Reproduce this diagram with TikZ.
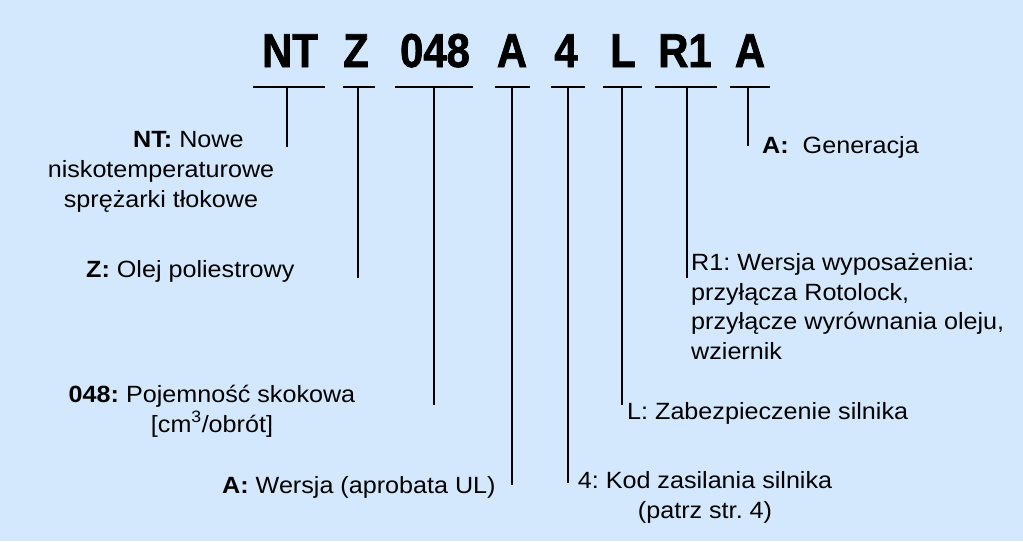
\documentclass[tikz,border=0pt]{standalone}
\usepackage{fontspec}
\setmainfont{Liberation Sans}
\newfontfamily\codefont[FakeStretch=0.88, FakeBold=1.6]{Liberation Sans}
\newfontfamily\descfont[FakeStretch=1.07]{Liberation Sans}
\definecolor{panelblue}{RGB}{211,232,253}
\frenchspacing

\tikzstyle {codetext} = [inner sep=0pt, anchor=base, font=\codefont\bfseries\fontsize{47.5}{50}\selectfont]
\tikzstyle {desc} = [inner sep=0pt, anchor=base west, align=left, font=\descfont\fontsize{23.5}{29.5}\selectfont]
\tikzstyle {bar} = [line width=2.8pt]

\begin{document}
\begin{tikzpicture}[x=1pt, y=-1pt]
    \fill [panelblue] (0,0) rectangle (1023,541);
    % type code
    \node [codetext] (nt) at (290,67) {NT};
    \node [codetext] (z) at (356,67) {Z};
    \node [codetext] (disp) at (435,67) {048};
    \node [codetext] (ver) at (512,67) {A};
    \node [codetext] (volt) at (566,67) {4};
    \node [codetext] (prot) at (623,67) {L};
    \node [codetext] (equip) at (685,67) {R1};
    \node [codetext] (gen) at (750,67) {A};
    % descriptions (multi-line nodes sit on their last baseline)
    \node [desc] (ntlabel) at (133,147) {\textbf{NT:} Nowe};
    \node [desc, align=center, anchor=base] (ntdesc) at (161,207) {niskotemperaturowe\\sprężarki tłokowe};
    \node [desc] (zlabel) at (86,277) {\textbf{Z:} Olej poliestrowy};
    \node [desc, align=center, anchor=base] (displabel) at (212,432) {\textbf{048:} Pojemność skokowa\\{[}cm\textsuperscript{3}/obrót]};
    \node [desc] (verlabel) at (222,493) {\textbf{A:} Wersja (aprobata UL)};
    \node [desc, align=center, anchor=base] (voltlabel) at (705,518) {4: Kod zasilania silnika\\(patrz str. 4)};
    \node [desc] (protlabel) at (627,419) {L: Zabezpieczenie silnika};
    \node [desc] (equiplabel) at (691,359) {R1: Wersja wyposażenia:\\przyłącza Rotolock,\\przyłącze wyrównania oleju,\\wziernik};
    \node [desc] (genlabel) at (762,153) {\textbf{A:}\hspace{14pt}Generacja};
    % bars and stems
    \foreach \name/\xa/\xb/\xm/\ye in {nt/253/325/287/147, z/343/375/358/278, disp/395/473/434/405, ver/495/530/512/485, volt/551/585/568/483, prot/603/642/622/405, equip/655/717/687/278, gen/730/770/748/146} {
        \coordinate (\name-l) at (\xa,87);
        \coordinate (\name-r) at (\xb,87);
        \coordinate (\name-m) at (\xm,87);
        \coordinate (\name-e) at (\xm,\ye);
        \draw [bar] (\name-l) -- (\name-r);
        \draw [bar] (\name-m) -- (\name-e);
    }
\end{tikzpicture}
\end{document}
